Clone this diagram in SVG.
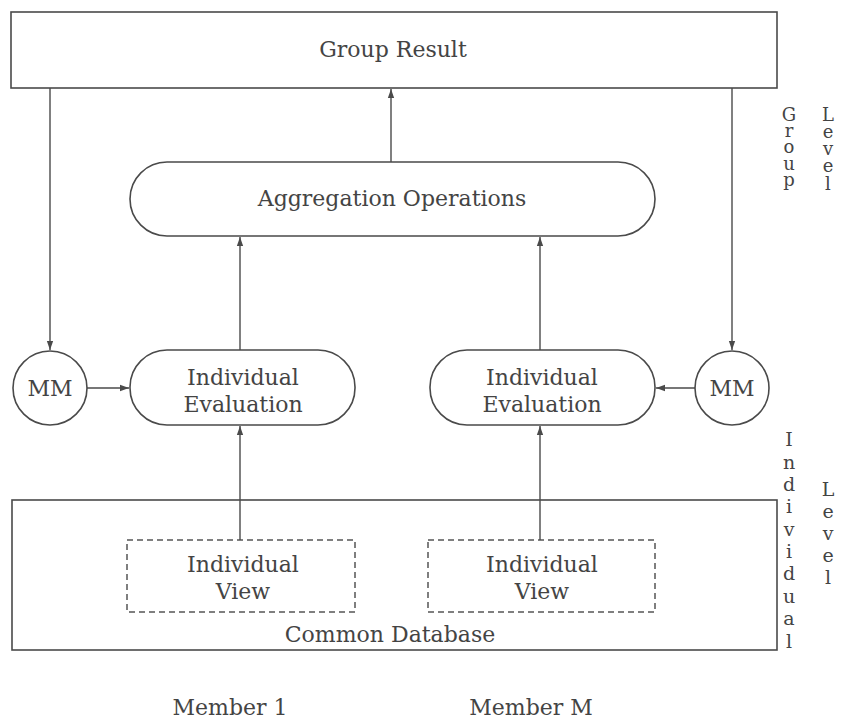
<svg xmlns="http://www.w3.org/2000/svg" width="841" height="723" viewBox="0 0 841 723">
<style>
.box{fill:none;stroke:#4a4a4a;stroke-width:1.6}
.dash{fill:none;stroke:#555;stroke-width:1.5;stroke-dasharray:6 4}
.ln{fill:none;stroke:#4a4a4a;stroke-width:1.4}
.t{fill:#444;font-size:22px;text-anchor:middle}
.v{font-size:18px}
.w{font-size:19px}
</style>
<defs>
<marker id="ah" viewBox="0 0 10 10" refX="10" refY="5" markerWidth="9" markerHeight="9" markerUnits="userSpaceOnUse" orient="auto">
<path d="M0,1.5 L10,5 L0,8.5 Z" fill="#4a4a4a"/>
</marker>
</defs>
<rect width="841" height="723" fill="#fff"/>
<g font-family="'DejaVu Serif', 'Liberation Serif', serif">
<g id="group-result">
<rect class="box" x="11" y="12" width="766" height="76"/>
<text class="t" x="393" y="57">Group Result</text>
</g>
<g id="aggregation">
<rect class="box" x="130" y="162" width="525" height="74" rx="37" ry="37"/>
<text class="t" x="392" y="206">Aggregation Operations</text>
</g>
<g id="mm-left">
<circle class="box" cx="50" cy="388" r="37"/>
<text class="t" x="50" y="396">MM</text>
</g>
<g id="mm-right">
<circle class="box" cx="732" cy="388" r="37"/>
<text class="t" x="732" y="396">MM</text>
</g>
<g id="eval-left">
<rect class="box" x="130" y="350" width="225" height="75" rx="37" ry="37"/>
<text class="t" x="243" y="385">Individual</text>
<text class="t" x="243" y="412">Evaluation</text>
</g>
<g id="eval-right">
<rect class="box" x="430" y="350" width="225" height="75" rx="37" ry="37"/>
<text class="t" x="542" y="385">Individual</text>
<text class="t" x="542" y="412">Evaluation</text>
</g>
<g id="common-database">
<rect class="box" x="12" y="500" width="765" height="150"/>
<text class="t" x="390" y="642">Common Database</text>
</g>
<g id="view-left">
<rect class="dash" x="127" y="540" width="228" height="72"/>
<text class="t" x="243" y="572">Individual</text>
<text class="t" x="243" y="599">View</text>
</g>
<g id="view-right">
<rect class="dash" x="428" y="540" width="227" height="72"/>
<text class="t" x="542" y="572">Individual</text>
<text class="t" x="542" y="599">View</text>
</g>
<g id="connectors">
<line class="ln" x1="391" y1="162" x2="391" y2="89" marker-end="url(#ah)"/>
<line class="ln" x1="50" y1="88" x2="50" y2="350" marker-end="url(#ah)"/>
<line class="ln" x1="732" y1="88" x2="732" y2="350" marker-end="url(#ah)"/>
<line class="ln" x1="240" y1="350" x2="240" y2="237" marker-end="url(#ah)"/>
<line class="ln" x1="540" y1="350" x2="540" y2="237" marker-end="url(#ah)"/>
<line class="ln" x1="87" y1="388" x2="129" y2="388" marker-end="url(#ah)"/>
<line class="ln" x1="695" y1="388" x2="656" y2="388" marker-end="url(#ah)"/>
<line class="ln" x1="240" y1="540" x2="240" y2="426" marker-end="url(#ah)"/>
<line class="ln" x1="540" y1="540" x2="540" y2="426" marker-end="url(#ah)"/>
</g>
<g id="labels">
<text class="t" x="230" y="715">Member 1</text>
<text class="t" x="531" y="715">Member M</text>
<text class="t v" x="789" y="121">G</text>
<text class="t v" x="789" y="137">r</text>
<text class="t v" x="789" y="153">o</text>
<text class="t v" x="789" y="170">u</text>
<text class="t v" x="789" y="186">p</text>
<text class="t v" x="828" y="121">L</text>
<text class="t v" x="828" y="138">e</text>
<text class="t v" x="828" y="155">v</text>
<text class="t v" x="828" y="172">e</text>
<text class="t v" x="828" y="190">l</text>
<text class="t w" x="789" y="446">I</text>
<text class="t w" x="789" y="469">n</text>
<text class="t w" x="789" y="491">d</text>
<text class="t w" x="789" y="513">i</text>
<text class="t w" x="789" y="536">v</text>
<text class="t w" x="789" y="558">i</text>
<text class="t w" x="789" y="580">d</text>
<text class="t w" x="789" y="603">u</text>
<text class="t w" x="789" y="625">a</text>
<text class="t w" x="789" y="648">l</text>
<text class="t w" x="828" y="496">L</text>
<text class="t w" x="828" y="518">e</text>
<text class="t w" x="828" y="540">v</text>
<text class="t w" x="828" y="562">e</text>
<text class="t w" x="828" y="584">l</text>
</g>
</g>
</svg>
